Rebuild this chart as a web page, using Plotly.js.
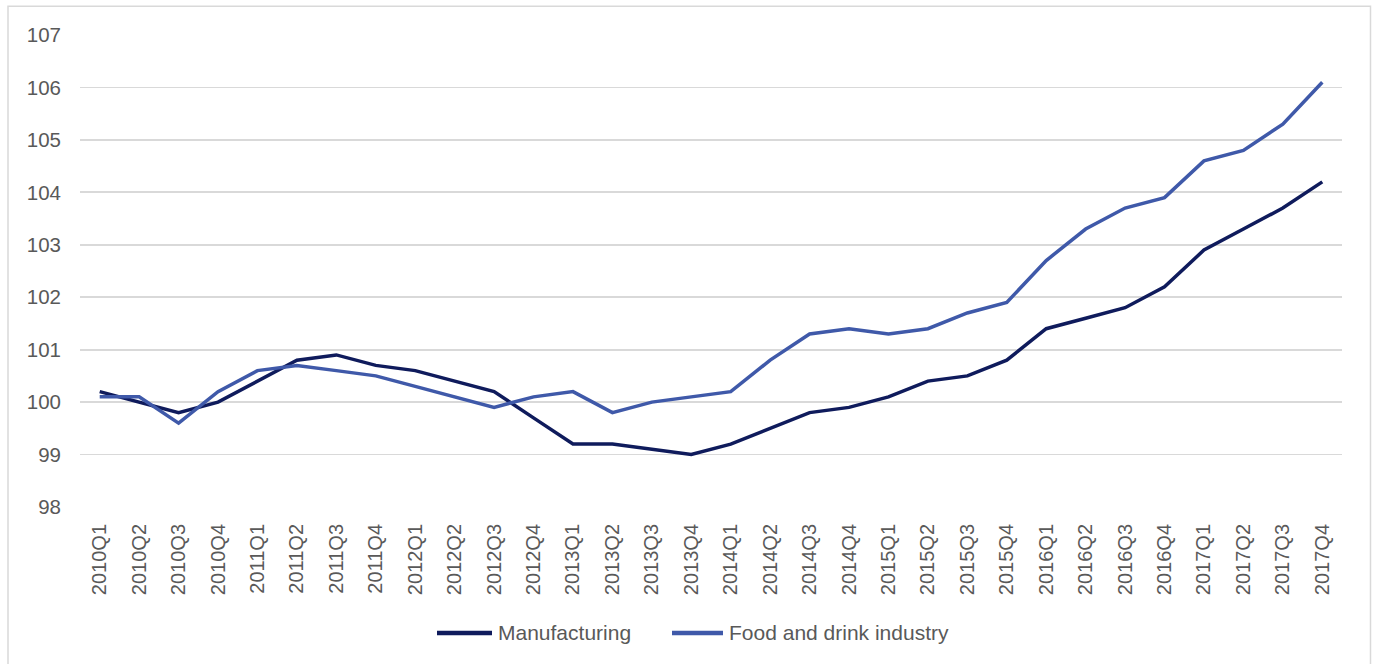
<!DOCTYPE html>
<html>
<head>
<meta charset="utf-8">
<script src="https://cdn.plot.ly/plotly-3.0.1.min.js"></script>
<style>
  html, body { margin: 0; padding: 0; background: #ffffff; }
  #chart { width: 1375px; height: 664px; }
</style>
</head>
<body>
<div id="chart"></div>
<script>
const quarters = [
  "2010Q1","2010Q2","2010Q3","2010Q4",
  "2011Q1","2011Q2","2011Q3","2011Q4",
  "2012Q1","2012Q2","2012Q3","2012Q4",
  "2013Q1","2013Q2","2013Q3","2013Q4",
  "2014Q1","2014Q2","2014Q3","2014Q4",
  "2015Q1","2015Q2","2015Q3","2015Q4",
  "2016Q1","2016Q2","2016Q3","2016Q4",
  "2017Q1","2017Q2","2017Q3","2017Q4"
];
const manufacturing = [
  100.2, 100.0, 99.8, 100.0,
  100.4, 100.8, 100.9, 100.7,
  100.6, 100.4, 100.2, 99.7,
  99.2, 99.2, 99.1, 99.0,
  99.2, 99.5, 99.8, 99.9,
  100.1, 100.4, 100.5, 100.8,
  101.4, 101.6, 101.8, 102.2,
  102.9, 103.3, 103.7, 104.2
];
const foodDrink = [
  100.1, 100.1, 99.6, 100.2,
  100.6, 100.7, 100.6, 100.5,
  100.3, 100.1, 99.9, 100.1,
  100.2, 99.8, 100.0, 100.1,
  100.2, 100.8, 101.3, 101.4,
  101.3, 101.4, 101.7, 101.9,
  102.7, 103.3, 103.7, 103.9,
  104.6, 104.8, 105.3, 106.1
];
const seriesNames = ["Manufacturing", "Food and drink industry"];
const seriesColors = ['#0f1b5c', '#3f59a9'];
const yTicks = [98, 99, 100, 101, 102, 103, 104, 105, 106, 107];

const FONT = '"Liberation Sans", Arial, sans-serif';
const TXT = '#595959';

const traces = [
  {
    x: quarters, y: manufacturing, name: seriesNames[0],
    type: 'scatter', mode: 'lines',
    line: { color: seriesColors[0], width: 3.5 }
  },
  {
    x: quarters, y: foodDrink, name: seriesNames[1],
    type: 'scatter', mode: 'lines',
    line: { color: seriesColors[1], width: 3.5 }
  }
];

// plot area: x 80..1342, y 34.7..507
const L = 80, R = 1342, T = 34.7, B = 507;
const pw = R - L, ph = B - T;
const px = v => (v - L) / pw;
const py = v => (B - v) / ph;

// legend (drawn by hand so the key lines are as long as in the reference)
const legY = 633;
const legItems = [
  { x0: 437, x1: 492, tx: 496 },
  { x0: 672, x1: 723, tx: 727 }
];
const legendShapes = legItems.map((it, i) => ({
  type: 'line', xref: 'paper', yref: 'paper',
  x0: px(it.x0), x1: px(it.x1), y0: py(legY), y1: py(legY),
  line: { color: seriesColors[i], width: 4.5 }
}));
const legendAnns = legItems.map((it, i) => ({
  xref: 'paper', yref: 'paper', x: px(it.tx), y: py(legY),
  xanchor: 'left', yanchor: 'middle', showarrow: false,
  text: seriesNames[i],
  font: { family: FONT, size: 21, color: TXT }
}));

const layout = {
  width: 1375, height: 664,
  paper_bgcolor: '#ffffff', plot_bgcolor: '#ffffff',
  margin: { l: L, r: 1375 - R, t: T, b: 664 - B, pad: 0 },
  font: { family: FONT, size: 20, color: TXT },
  showlegend: false,
  xaxis: {
    type: 'category', categoryorder: 'array', categoryarray: quarters,
    range: [-0.5, quarters.length - 0.5],
    showgrid: false, zeroline: false, showline: false,
    ticks: '', tickangle: -90, ticklabelstandoff: 12,
    tickfont: { family: FONT, size: 20, color: TXT },
    fixedrange: true
  },
  yaxis: {
    range: [98, 107], tickvals: yTicks, ticktext: yTicks.map(String),
    showgrid: true, gridcolor: '#d9d9d9', gridwidth: 1.8,
    zeroline: false, showline: false, ticks: '',
    ticklabelstandoff: 18,
    tickfont: { family: FONT, size: 20.5, color: TXT },
    fixedrange: true
  },
  shapes: [
    {
      type: 'rect', xref: 'paper', yref: 'paper',
      x0: px(8), x1: px(1370.5), y0: py(6), y1: py(672),
      line: { color: '#d9d9d9', width: 1.5 }, fillcolor: 'rgba(0,0,0,0)',
      layer: 'below'
    }
  ].concat(legendShapes),
  annotations: legendAnns
};

Plotly.newPlot('chart', traces, layout, { displayModeBar: false, staticPlot: true });
</script>
</body>
</html>
